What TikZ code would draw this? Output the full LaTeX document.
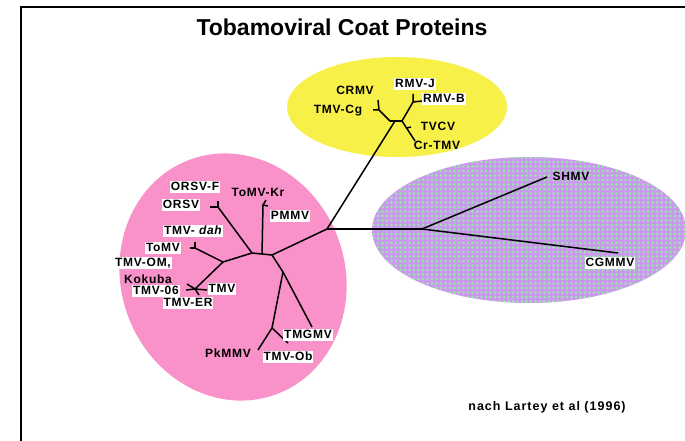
\documentclass[tikz,border=0pt]{standalone}
\usepackage{fontspec}
\setmainfont{Liberation Sans}
\newfontfamily\lblfont[LetterSpace=6]{Liberation Sans}
\newfontfamily\notefont[LetterSpace=8]{Liberation Sans}
\usetikzlibrary{patterns.meta}
\definecolor{ovalyellow}{RGB}{247,240,72}
\definecolor{ovalpink}{RGB}{248,146,200}
\definecolor{ovalviolet}{RGB}{202,152,238}
\definecolor{dotgreen}{RGB}{150,236,160}
\tikzset{
 lbl/.style={font=\lblfont\bfseries\fontsize{12}{12}\selectfont,inner sep=1pt,text height=9pt,text depth=1.5pt},
 wlbl/.style={lbl,fill=white},
 br/.style={line width=1.5pt}
}
\begin{document}
\begin{tikzpicture}[x=1pt,y=-1pt]
 \useasboundingbox (0,0) rectangle (685,441);
 \fill[white] (0,0) rectangle (685,441);
 \draw[line width=2.8pt] (21,441) -- (21,7) -- (685,7);
 \node (title) at (342,27) {\fontsize{23}{23}\selectfont\bfseries Tobamoviral Coat Proteins};
 \fill[ovalyellow] (397,107) ellipse [x radius=110, y radius=50];
 \fill[ovalviolet] (529,230) ellipse [x radius=157, y radius=73];
 \fill[pattern={Dots[distance=4.5pt,radius=1.3pt]},pattern color=dotgreen] (529,230) ellipse [x radius=157, y radius=73];
 \fill[ovalpink,rotate around={20:(233,277)}] (233,277) ellipse [x radius=112, y radius=125];
 \coordinate (c) at (327,229);
 \coordinate (sh) at (422,229);
 \coordinate (shmv) at (547,177);
 \coordinate (cgmmv) at (618,253);
 \coordinate (y0) at (395,121);
 \coordinate (yl) at (390,121);
 \coordinate (yr) at (402,121);
 \coordinate (ycg) at (379,110);
 \coordinate (ycga) at (373,110);
 \coordinate (ycgb) at (378,100);
 \coordinate (yrmv) at (413,102);
 \coordinate (yrmva) at (413,94);
 \coordinate (yrmvb) at (422,101);
 \coordinate (ycr) at (415,141);
 \coordinate (ytv) at (406.5,128);
 \coordinate (ytva) at (411,127);
 \coordinate (pa) at (272,255);
 \coordinate (pb) at (262,254);
 \coordinate (pc) at (252,253);
 \coordinate (pkr) at (263,205);
 \coordinate (pkra) at (266,200);
 \coordinate (pkrb) at (268,206);
 \coordinate (por) at (218,207);
 \coordinate (pora) at (210,207);
 \coordinate (porb) at (218,201);
 \coordinate (pg) at (223,262);
 \coordinate (pdah) at (195,248);
 \coordinate (pdaha) at (195,242);
 \coordinate (pdahb) at (190,248);
 \coordinate (ph) at (195,289);
 \coordinate (pha) at (187,284);
 \coordinate (phb) at (186,290);
 \coordinate (phc) at (199,295);
 \coordinate (phd) at (207,290);
 \coordinate (pd) at (283,272);
 \coordinate (ptmg) at (312,327);
 \coordinate (pe) at (272,328);
 \coordinate (ppk) at (258,350);
 \coordinate (pob) at (288,343);
 \draw[br] (c) -- (sh);
 \draw[br] (sh) -- (shmv);
 \draw[br] (sh) -- (cgmmv);
 \draw[br] (c) -- (y0);
 \draw[br] (yl) -- (yr);
 \draw[br] (yl) -- (ycg);
 \draw[br] (ycga) -- (ycg) -- (ycgb);
 \draw[br] (yr) -- (yrmv);
 \draw[br] (yrmva) -- (yrmv) -- (yrmvb);
 \draw[br] (yr) -- (ycr);
 \draw[br] (ytv) -- (ytva);
 \draw[br] (c) -- (pa) -- (pb) -- (pc);
 \draw[br] (pb) -- (pkr);
 \draw[br] (pkra) -- (pkr) -- (pkrb);
 \draw[br] (pc) -- (por);
 \draw[br] (pora) -- (por) -- (porb);
 \draw[br] (pc) -- (pg);
 \draw[br] (pg) -- (pdah);
 \draw[br] (pdaha) -- (pdah) -- (pdahb);
 \draw[br] (pg) -- (ph);
 \draw[br] (pha) -- (ph) -- (phb);
 \draw[br] (phc) -- (ph) -- (phd);
 \draw[br] (pa) -- (pd);
 \draw[br] (pd) -- (ptmg);
 \draw[br] (pd) -- (pe);
 \draw[br] (pe) -- (ppk);
 \draw[br] (pe) -- (pob);
 \node[lbl] (lcrmv) at (355,91) {CRMV};
 \node[lbl] (ltmvcg) at (338,110) {TMV-Cg};
 \node[wlbl] (lrmvj) at (415,84) {RMV-J};
 \node[wlbl] (lrmvb) at (444,99) {RMV-B};
 \node[lbl] (ltvcv) at (438,127) {TVCV};
 \node[lbl] (lcrtmv) at (437,146) {Cr-TMV};
 \node[lbl] (lshmv) at (571,177) {SHMV};
 \node[wlbl] (lcgmmv) at (610,263) {CGMMV};
 \node[wlbl] (lorsvf) at (195,187) {ORSV-F};
 \node[wlbl] (lorsv) at (181,205) {ORSV};
 \node[lbl] (ltomvkr) at (258,193) {ToMV-Kr};
 \node[wlbl] (lpmmv) at (290,216) {PMMV};
 \node[wlbl] (ltmvdah) at (193,231) {TMV- \itshape dah};
 \node[wlbl] (ltomv) at (163,248) {ToMV};
 \node[wlbl] (ltmvom) at (143,263) {TMV-OM,};
 \node[lbl] (lkokuba) at (148,280) {Kokuba};
 \node[wlbl] (ltmv06) at (156,291) {TMV-06};
 \node[wlbl] (ltmv) at (222,289) {TMV};
 \node[wlbl] (ltmver) at (188,303) {TMV-ER};
 \node[wlbl] (ltmgmv) at (308,335) {TMGMV};
 \node[lbl] (lpkmmv) at (228,354) {PkMMV};
 \node[wlbl] (ltmvob) at (288,357) {TMV-Ob};
 \node (note) at (547,407) {\notefont\bfseries\fontsize{12.5}{12.5}\selectfont nach Lartey et al (1996)};
\end{tikzpicture}
\end{document}
